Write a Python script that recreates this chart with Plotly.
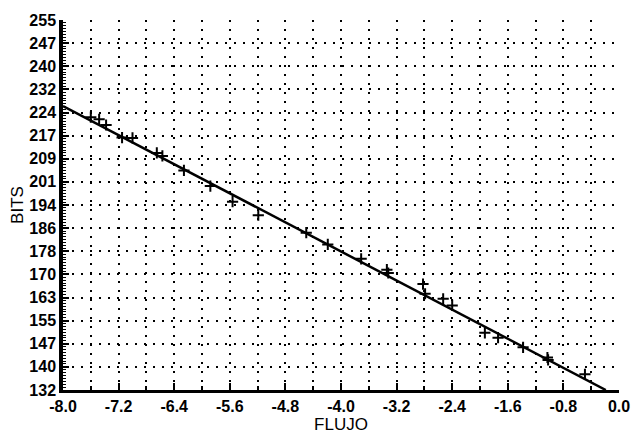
import plotly.graph_objects as go

# Data
flujo = [-7.60, -7.48, -7.38, -7.15, -7.00, -6.65, -6.57, -6.26, -5.88, -5.56,
         -5.19, -4.50, -4.19, -3.71, -3.34, -3.32, -2.82, -2.79, -2.53, -2.40,
         -1.93, -1.74, -1.38, -1.03, -1.02, -0.49]
bits = [222.7, 222.0, 220.1, 215.9, 215.8, 210.8, 209.8, 205.0, 199.8, 194.6,
        190.1, 184.3, 180.4, 175.6, 172.0, 170.9, 167.2, 164.0, 162.3, 160.1,
        151.0, 149.4, 146.2, 142.8, 142.0, 137.2]

fit_x = [-8.0, -0.19]
fit_y = [226.4, 132.0]

x_tickvals = [-8.0, -7.2, -6.4, -5.6, -4.8, -4.0, -3.2, -2.4, -1.6, -0.8, 0.0]
x_labels = ["-8.0", "-7.2", "-6.4", "-5.6", "-4.8", "-4.0", "-3.2", "-2.4", "-1.6", "-0.8", "0.0"]
x_ticktext = ["<b>" + t + "</b>" for t in x_labels]

y_min, y_max, y_steps = 132, 255, 16
y_tickvals = [y_min + k * (y_max - y_min) / y_steps for k in range(y_steps + 1)]
y_labels = ["132", "140", "147", "155", "163", "170", "178", "186", "194",
            "201", "209", "217", "224", "232", "240", "247", "255"]
y_ticktext = ["<b>" + t + "</b>" for t in y_labels]

fig = go.Figure()
fig.add_trace(go.Scatter(x=fit_x, y=fit_y, mode="lines",
                         line=dict(color="black", width=2.5), showlegend=False))
fig.add_trace(go.Scatter(x=flujo, y=bits, mode="markers",
                         marker=dict(symbol="cross-thin", size=8,
                                     line=dict(color="black", width=2)),
                         showlegend=False))

tickfont = dict(family="Liberation Sans", size=16, color="black")
titlefont = dict(family="Liberation Sans", size=17, color="black")

fig.update_layout(
    width=642, height=439,
    margin=dict(l=63, r=12, t=12, b=46),
    paper_bgcolor="white", plot_bgcolor="white",
    font=dict(family="Liberation Sans", size=16, color="black"),
    xaxis=dict(
        range=[-8.0, 0.0], tickvals=x_tickvals, ticktext=x_ticktext,
        ticks="inside", ticklen=7, tickwidth=2, tickcolor="black",
        minor=dict(dtick=0.4, tick0=0, ticks="inside", ticklen=4, tickwidth=1.5,
                   tickcolor="black", showgrid=True, gridcolor="black",
                   gridwidth=2, griddash="2px,7px"),
        showgrid=True, gridcolor="black", gridwidth=2, griddash="2px,7px",
        showline=True, linecolor="black", linewidth=2.5,
        zeroline=False, tickfont=tickfont,
        title=dict(text="FLUJO", font=titlefont, standoff=0),
    ),
    yaxis=dict(
        range=[y_min, y_max], tickvals=y_tickvals, ticktext=y_ticktext,
        ticks="inside", ticklen=6, tickwidth=2, tickcolor="black",
        minor=dict(dtick=(y_max - y_min) / y_steps / 8, tick0=y_min, ticks="inside",
                   ticklen=3, tickwidth=1, tickcolor="black", showgrid=False),
        showgrid=True, gridcolor="black", gridwidth=2, griddash="2px,7px",
        showline=True, linecolor="black", linewidth=3.5,
        zeroline=False, tickfont=tickfont,
        title=dict(text="BITS", font=titlefont, standoff=2),
    ),
)

fig.write_html("out.html")
